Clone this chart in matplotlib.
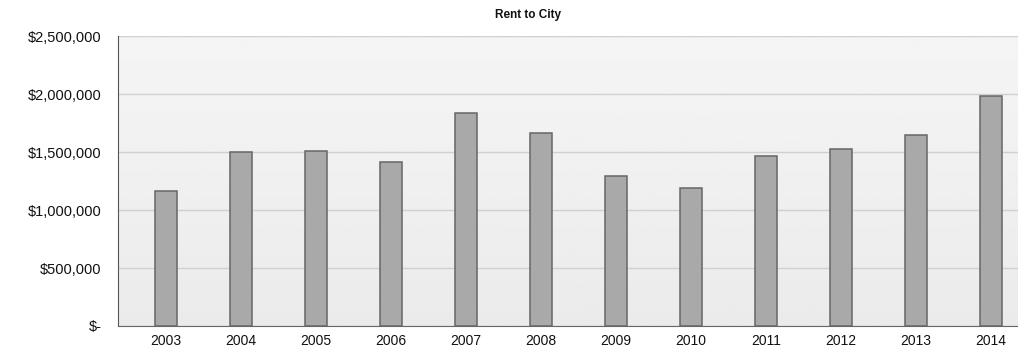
import matplotlib as mpl
mpl.use('agg')
import matplotlib.pyplot as plt
import numpy as np
from matplotlib.ticker import FuncFormatter

years = ['2003', '2004', '2005', '2006', '2007', '2008',
         '2009', '2010', '2011', '2012', '2013', '2014']
rent = [1160000, 1497000, 1512000, 1416000, 1839000, 1661000,
        1296000, 1192000, 1466000, 1523000, 1649000, 1983000]
yticks = [0, 500000, 1000000, 1500000, 2000000, 2500000]

plt.rcParams['font.family'] = ['Liberation Sans', 'DejaVu Sans']

fig = plt.figure(figsize=(10.18, 3.54), dpi=100)
ax = fig.add_axes([118 / 1018, 28 / 354, 900 / 1018, 290 / 354])

# gray gradient background, a bit darker at the top
grad = np.linspace(0.96, 0.92, 100).reshape(-1, 1)
ax.imshow(grad, cmap='gray', vmin=0, vmax=1, aspect='auto',
          extent=[0, 1, 0, 1], transform=ax.transAxes, zorder=0)

x = np.arange(len(years))
ax.bar(x, rent, width=0.29, color='#a9a9a9', edgecolor='#666666',
       linewidth=1.1, zorder=3)

ax.set_xlim(-0.64, 11.36)
ax.set_ylim(0, 2500000)
ax.set_yticks(yticks)
ax.yaxis.set_major_formatter(FuncFormatter(
    lambda v, p: '$-' if v == 0 else '${:,.0f}'.format(v)))
ax.set_xticks(x)
ax.set_xticklabels(years)

ax.grid(axis='y', color='#d0d0d0', linewidth=1.0, zorder=1)
ax.set_axisbelow(True)

for s in ['top', 'right']:
    ax.spines[s].set_visible(False)
ax.spines['left'].set_color('#555555')
ax.spines['bottom'].set_color('#666666')
ax.tick_params(axis='y', length=0, pad=12, labelsize=10.5, colors='#111111')
ax.tick_params(axis='x', length=0, pad=6, labelsize=10, colors='#111111')

fig.text(528 / 1018, 1 - 15 / 354, 'Rent to City', ha='center', va='center',
         fontsize=8.5, fontweight='bold', color='#111111')

fig.savefig('out.png', dpi=100, facecolor='white')
